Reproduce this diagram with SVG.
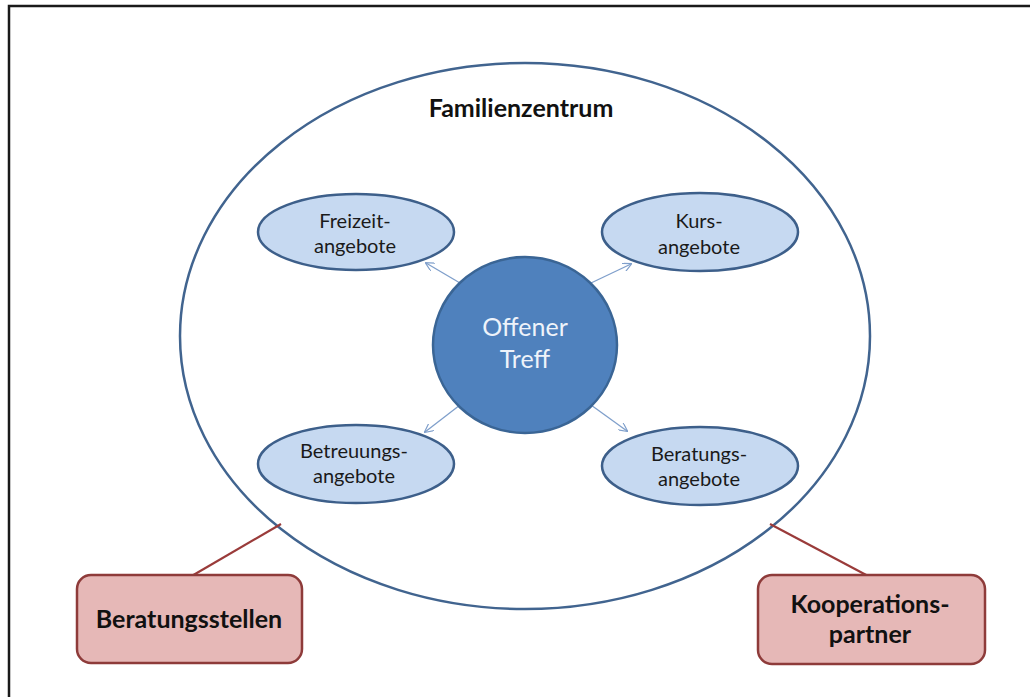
<svg xmlns="http://www.w3.org/2000/svg" width="1030" height="697" viewBox="0 0 1030 697">
<defs>
<style>
.frame{fill:#fff;stroke:#1a1a1a;stroke-width:2.5}
.outer{fill:#fff;stroke:#41648f;stroke-width:2.5}
.sub{fill:#c6d9f1;stroke:#3d5f8a;stroke-width:2.5}
.hub{fill:#4f81bd;stroke:#3a6595;stroke-width:2.5}
.box{fill:#e6b8b7;stroke:#8e3b3a;stroke-width:2.5}
.arr{stroke:#7f9fcb;stroke-width:1.3;fill:none;marker-end:url(#ah)}
.red{stroke:#9a3b3a;stroke-width:2.2;fill:none}
text{font-family:Lato,"Open Sans","Liberation Sans",sans-serif;text-anchor:middle}
.t{font-size:20px;fill:#1a1a1a}
.hubt{font-size:25px;fill:#eef3fa}
.b{font-size:25px;font-weight:bold;fill:#111}
</style>
<marker id="ah" viewBox="0 0 10 10" refX="9" refY="5" markerWidth="9" markerHeight="9" markerUnits="userSpaceOnUse" orient="auto">
<path d="M0,0 L10,5 L0,10" fill="none" stroke="#7f9fcb" stroke-width="1.3"/>
</marker>
</defs>
<rect class="frame" x="9" y="6" width="1040" height="710"/>
<g id="familienzentrum">
<ellipse class="outer" cx="525" cy="336" rx="345" ry="273"/>
<text class="b" x="521" y="117">Familienzentrum</text>
</g>
<g id="connectors">
<line class="arr" x1="460" y1="283" x2="426" y2="263"/>
<line class="arr" x1="591" y1="283" x2="631" y2="264"/>
<line class="arr" x1="460" y1="405" x2="425" y2="432"/>
<line class="arr" x1="591" y1="405" x2="627" y2="431"/>
<line class="red" x1="281" y1="524" x2="190" y2="577"/>
<line class="red" x1="770" y1="524" x2="870" y2="577"/>
</g>
<g id="offener-treff">
<ellipse class="hub" cx="525" cy="345" rx="92" ry="88"/>
<text class="hubt" x="525" y="336">Offener</text>
<text class="hubt" x="525" y="368">Treff</text>
</g>
<g id="freizeitangebote">
<ellipse class="sub" cx="356" cy="232" rx="98" ry="38"/>
<text class="t" x="355" y="228">Freizeit-</text>
<text class="t" x="355" y="253">angebote</text>
</g>
<g id="kursangebote">
<ellipse class="sub" cx="700" cy="232" rx="98" ry="39"/>
<text class="t" x="699" y="228">Kurs-</text>
<text class="t" x="699" y="254">angebote</text>
</g>
<g id="betreuungsangebote">
<ellipse class="sub" cx="356" cy="464" rx="98" ry="39"/>
<text class="t" x="354" y="458">Betreuungs-</text>
<text class="t" x="354" y="483">angebote</text>
</g>
<g id="beratungsangebote">
<ellipse class="sub" cx="700" cy="466" rx="98" ry="39"/>
<text class="t" x="699" y="461">Beratungs-</text>
<text class="t" x="699" y="486">angebote</text>
</g>
<g id="beratungsstellen">
<rect class="box" x="77" y="575" width="225" height="88" rx="14"/>
<text class="b" x="189" y="628">Beratungsstellen</text>
</g>
<g id="kooperationspartner">
<rect class="box" x="758" y="575" width="227" height="89" rx="14"/>
<text class="b" x="870" y="613">Kooperations-</text>
<text class="b" x="870" y="643">partner</text>
</g>
</svg>
